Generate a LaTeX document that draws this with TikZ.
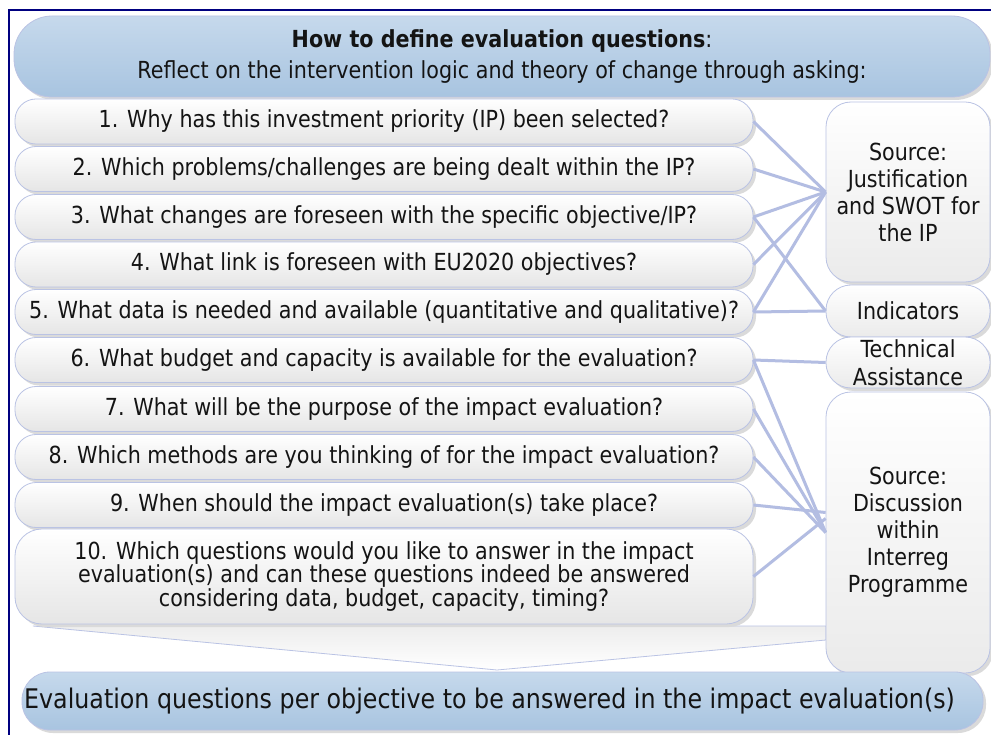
\documentclass[tikz,border=0pt]{standalone}
\usepackage{fontspec}
\setmainfont{DejaVu Sans}[FakeStretch=0.88]
\usetikzlibrary{shadows}
\definecolor{framecol}{HTML}{000080}
\definecolor{hdtop}{HTML}{C6D9EC}
\definecolor{hdbot}{HTML}{A8C4E0}
\definecolor{edgecol}{HTML}{BAC3E4}
\definecolor{linkcol}{HTML}{B3BDE2}
\definecolor{shadecol}{HTML}{DADADA}
\definecolor{inkcol}{HTML}{141414}

\begin{document}
\begin{tikzpicture}[x=1pt,y=-1pt,
  basebox/.style={draw=edgecol, line width=0.8pt, inner sep=0pt, align=center,
    text=inkcol, font=\fontsize{23.5}{23.5}\selectfont,
    drop shadow={shadow xshift=3pt,shadow yshift=-3pt,fill=shadecol,opacity=1}},
  question/.style={basebox, rounded corners=21pt, top color=white,
    bottom color=black!10, minimum width=738pt, minimum height=45pt},
  sourcebox/.style={basebox, rounded corners=25pt, top color=white,
    bottom color=black!8, minimum width=164pt},
  bluebox/.style={basebox, top color=hdtop, bottom color=hdbot},
  conn/.style={draw=linkcol, line width=3pt}]

\useasboundingbox (0,0) rectangle (991,735);
\fill[white] (0,0) rectangle (991,735);

% frame (top and left rules)
\draw[framecol, line width=2.5pt] (991,10) -- (9,10) -- (9,735);

% funnel leading from the question list to the result
\coordinate (fa) at (33,626);
\coordinate (fb) at (826,626);
\coordinate (fc) at (826,640);
\coordinate (fd) at (497,670);
\path[draw=edgecol, line width=0.8pt, top color=black!7, bottom color=white]
  (fa) -- (fb) -- (fc) -- (fd) -- cycle;

% header
\node[bluebox, rounded corners=38pt, minimum width=976pt, minimum height=81pt,
  font=\fontsize{23.5}{31}\selectfont] (head) at (502,56.5)
  {{\bfseries How to define evaluation questions}:\\
   Reflect on the intervention logic and theory of change through asking:};

% questions
\node[question] (q1) at (384,121.5) {1. Why has this investment priority (IP) been selected?};
\node[question] (q2) at (384,169) {2. Which problems/challenges are being dealt within the IP?};
\node[question] (q3) at (384,217) {3. What changes are foreseen with the specific objective/IP?};
\node[question] (q4) at (384,264.5) {4. What link is foreseen with EU2020 objectives?};
\node[question] (q5) at (384,312) {5. What data is needed and available (quantitative and qualitative)?};
\node[question] (q6) at (384,360) {6. What budget and capacity is available for the evaluation?};
\node[question] (q7) at (384,409) {7. What will be the purpose of the impact evaluation?};
\node[question] (q8) at (384,457) {8. Which methods are you thinking of for the impact evaluation?};
\node[question] (q9) at (384,505) {9. When should the impact evaluation(s) take place?};
\node[question, rounded corners=27pt, minimum height=95pt] (q10) at (384,576.5)
  {10. Which questions would you like to answer in the impact\\
   evaluation(s) and can these questions indeed be answered\\
   considering data, budget, capacity, timing?};

% sources
\node[sourcebox, minimum height=180pt, font=\fontsize{23.5}{27}\selectfont] (just) at (908,192)
  {Source:\\Justification\\and SWOT for\\the IP};
\node[sourcebox, minimum height=52pt] (ind) at (908,311) {Indicators};
\node[sourcebox, minimum height=51pt, font=\fontsize{23.5}{28}\selectfont] (tech) at (908,362.5)
  {Technical\\Assistance};
\node[sourcebox, minimum height=281pt, font=\fontsize{23.5}{27}\selectfont] (disc) at (908,532.5)
  {Source:\\Discussion\\within\\Interreg\\Programme};

% result
\node[bluebox, rounded corners=28pt, minimum width=961pt, minimum height=58pt,
  font=\fontsize{27}{27}\selectfont] (result) at (502.5,701)
  {Evaluation questions per objective to be answered in the impact evaluation(s)\hspace*{26pt}};

% links between questions and their sources
\draw[conn] (q1.east) -- (just.west);
\draw[conn] (q2.east) -- (just.west);
\draw[conn] (q3.east) -- (just.west);
\draw[conn] (q4.east) -- (just.west);
\draw[conn] (q5.east) -- (just.west);
\draw[conn] (q3.east) -- (ind.west);
\draw[conn] (q5.east) -- (ind.west);
\draw[conn] (q6.east) -- (tech.west);
\draw[conn] (q6.east) -- (disc.west);
\draw[conn] (q7.east) -- (disc.west);
\draw[conn] (q8.east) -- (disc.west);
\draw[conn] (q9.east) -- ([yshift=20pt]disc.west);
\draw[conn] (q10.east) -- ([yshift=14pt]disc.west);
\end{tikzpicture}
\end{document}
